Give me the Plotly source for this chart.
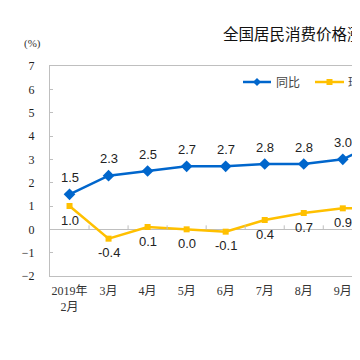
import plotly.graph_objects as go

# ---- data ----
months = ["2019年<br>2月", "3月", "4月", "5月", "6月", "7月", "8月", "9月", "10月"]
yoy = [1.5, 2.3, 2.5, 2.7, 2.7, 2.8, 2.8, 3.0, 3.8]    # 同比
mom = [1.0, -0.4, 0.1, 0.0, -0.1, 0.4, 0.7, 0.9, 0.9]  # 环比
y_ticks = [-2, -1, 0, 1, 2, 3, 4, 5, 6, 7]
title_text = "全国居民消费价格涨跌幅"

BLUE = "#0066CC"
YELLOW = "#FFC000"
GRAY = "#BFBFBF"
OFF = 8  # page body margin offset
W, H = 360 - OFF, 360 - OFF
L, R, T, B = 50 - OFF, 0, 66 - OFF, 84
PW, PH = W - L - R, H - T - B

def px_x(p):
    return (p - OFF - L) / PW

def px_y(p):
    return (H - B - (p - OFF)) / PH

xs = list(range(len(months)))

fig = go.Figure()
fig.add_trace(go.Scatter(x=xs, y=yoy, mode="lines+markers", name="同比",
                         line=dict(color=BLUE, width=2.5),
                         marker=dict(symbol="diamond", size=9, color=BLUE)))
fig.add_trace(go.Scatter(x=xs, y=mom, mode="lines+markers", name="环比",
                         line=dict(color=YELLOW, width=2.5),
                         marker=dict(symbol="square", size=6, color=YELLOW)))

annos = []
lab_font = dict(family="Liberation Sans, Arial, sans-serif", size=13, color="#222")
for i, v in enumerate(yoy):
    annos.append(dict(x=i, y=v, xref="x", yref="y", text=f"{v:.1f}", showarrow=False,
                      yshift=17, font=lab_font))
for i, v in enumerate(mom):
    annos.append(dict(x=i, y=v, xref="x", yref="y", text=f"{v:.1f}", showarrow=False,
                      yshift=-14, font=lab_font))

# title (cropped at the right edge like the reference)
annos.append(dict(x=px_x(221), y=px_y(33), xref="paper", yref="paper", text=title_text,
                  showarrow=False, xanchor="left", yanchor="middle",
                  font=dict(family="Noto Sans CJK SC, sans-serif", size=15.5, color="#111")))
annos.append(dict(x=px_x(32), y=px_y(44), xref="paper", yref="paper", text="(%)",
                  showarrow=False, xanchor="center", yanchor="middle",
                  font=dict(family="Liberation Serif, serif", size=11, color="#333")))

# manual legend
leg_font = dict(family="Noto Sans CJK SC, sans-serif", size=12, color="#444")
shapes = []
leg_y = px_y(82)
for (x0, x1, col, sym, label, tx) in [(243, 271, BLUE, "diamond", "同比", 274),
                                      (315, 344, YELLOW, "square", "环比", 346)]:
    shapes.append(dict(type="line", xref="paper", yref="paper", x0=px_x(x0), x1=px_x(x1),
                       y0=leg_y, y1=leg_y, line=dict(color=col, width=2.5)))
    cx = px_x((x0 + x1) / 2)
    if sym == "diamond":
        path = "M -4 0 L 0 4 L 4 0 L 0 -4 Z"
    else:
        path = "M -3 -3 L 3 -3 L 3 3 L -3 3 Z"
    shapes.append(dict(type="path", xref="paper", yref="paper", xsizemode="pixel",
                       ysizemode="pixel", xanchor=cx, yanchor=leg_y, path=path,
                       fillcolor=col, line=dict(color=col, width=0)))
    annos.append(dict(x=px_x(tx), y=leg_y, xref="paper", yref="paper", text=label,
                      showarrow=False, xanchor="left", yanchor="middle", font=leg_font))

# small tick marks on the zero line between categories
for i in range(len(months)):
    shapes.append(dict(type="line", xref="x", yref="y", ysizemode="pixel", yanchor=0,
                       x0=i + 0.5, x1=i + 0.5, y0=0, y1=4,
                       line=dict(color=GRAY, width=1)))

fig.update_layout(
    width=W, height=H, margin=dict(l=L, r=R, t=T, b=B, autoexpand=False),
    paper_bgcolor="white", plot_bgcolor="white", showlegend=False,
    annotations=annos, shapes=shapes,
    xaxis=dict(range=[-0.5, -0.5 + PW / 39.04], tickvals=xs, ticktext=months,
               automargin=False,
               showline=True, mirror=True, linecolor=GRAY, linewidth=1,
               showgrid=False, zeroline=False, ticks="", ticklabelstandoff=4,
               tickfont=dict(family="Liberation Serif, Noto Sans CJK SC, serif", size=12, color="#333")),
    yaxis=dict(range=[-2, 7], tickvals=y_ticks, showline=True, linecolor=GRAY, linewidth=1,
               automargin=False,
               showgrid=False, zeroline=True, zerolinecolor=GRAY, zerolinewidth=1,
               ticks="inside", ticklen=3, tickcolor=GRAY, ticklabelstandoff=12,
               tickfont=dict(family="Liberation Serif, serif", size=12, color="#222")),
)

fig.write_html("out.html")
